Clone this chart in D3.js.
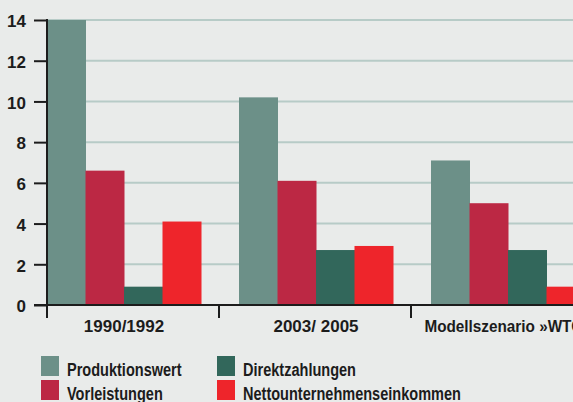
<!DOCTYPE html>
<html>
<head>
<meta charset="utf-8">
<script src="https://cdn.jsdelivr.net/npm/d3@7"></script>
<style>
body { margin: 0; background: #e9ebea; }
svg { display: block; }
text { font-family: "Liberation Sans", Arial, sans-serif; font-weight: bold; fill: #1c1c1c; }
</style>
</head>
<body>
<svg id="chart" width="573" height="402"></svg>
<script>
var categories = ["1990/1992", "2003/ 2005", "Modellszenario »WTO«"];
var seriesNames = ["Produktionswert", "Vorleistungen", "Direktzahlungen", "Nettounternehmenseinkommen"];
var produktionswert = [14.0, 10.2, 7.1];
var vorleistungen = [6.6, 6.1, 5.0];
var direktzahlungen = [0.9, 2.7, 2.7];
var netto = [4.1, 2.9, 0.9];
var yTicks = [0, 2, 4, 6, 8, 10, 12, 14];

var values = [produktionswert, vorleistungen, direktzahlungen, netto];
var colors = ["#6c9088", "#bc2844", "#32675b", "#ee252b"];

var svg = d3.select("#chart");
var plotLeft = 47, plotTop = 20, base = 305, step = 192, groupW = 154;

// narrow words a bit, the original uses a condensed face (digits stay as they are)
function squeeze(sel, k) {
    sel.each(function() {
        if (!/[a-z]/i.test(this.textContent)) return;
        var w = this.getComputedTextLength();
        d3.select(this).attr("textLength", w * k).attr("lengthAdjust", "spacingAndGlyphs");
    });
}

var y = d3.scaleLinear().domain([0, 14]).range([base, plotTop]);
var x0 = d3.scaleBand().domain(categories).range([plotLeft, plotLeft + step * categories.length]);
var x1 = d3.scaleBand().domain(seriesNames).range([0, groupW]);
var color = d3.scaleOrdinal().domain(seriesNames).range(colors);

// gridlines
svg.append("g").selectAll("line")
    .data(yTicks.filter(function(d) { return d > 0; }))
    .enter().append("line")
    .attr("x1", plotLeft).attr("x2", 573)
    .attr("y1", function(d) { return y(d); })
    .attr("y2", function(d) { return y(d); })
    .attr("stroke", "#b7cbc7")
    .attr("stroke-width", 2);

// bars
var rows = [];
categories.forEach(function(c, i) {
    seriesNames.forEach(function(s, j) {
        rows.push({ cat: c, name: s, value: values[j][i] });
    });
});
svg.append("g").selectAll("rect")
    .data(rows)
    .enter().append("rect")
    .attr("x", function(d) { return x0(d.cat) + x1(d.name); })
    .attr("width", x1.bandwidth() + 0.5)
    .attr("y", function(d) { return y(d.value); })
    .attr("height", function(d) { return base - y(d.value); })
    .attr("fill", function(d) { return color(d.name); });

// y axis
var yAxis = d3.axisLeft(y).tickValues(yTicks).tickSize(13).tickPadding(8).tickFormat(d3.format("d"));
var ya = svg.append("g").attr("transform", "translate(" + plotLeft + ",0)").call(yAxis);
ya.select(".domain").remove();
ya.selectAll(".tick line").attr("stroke", "#1c1c1c").attr("stroke-width", 2);
ya.selectAll(".tick text").attr("fill", null).style("font-size", "17px").attr("dy", "0.4em");
svg.append("line")
    .attr("x1", plotLeft).attr("x2", plotLeft)
    .attr("y1", plotTop - 1).attr("y2", base + 13)
    .attr("stroke", "#1c1c1c").attr("stroke-width", 2);

// x baseline and group ticks
svg.append("line")
    .attr("x1", 34).attr("x2", 573)
    .attr("y1", base).attr("y2", base)
    .attr("stroke", "#1c1c1c").attr("stroke-width", 2);
svg.append("g").selectAll("line")
    .data(categories.slice(1))
    .enter().append("line")
    .attr("x1", function(d) { return x0(d) - 20; })
    .attr("x2", function(d) { return x0(d) - 20; })
    .attr("y1", base).attr("y2", base + 13)
    .attr("stroke", "#1c1c1c").attr("stroke-width", 2);
svg.append("g").selectAll("text")
    .data(categories)
    .enter().append("text")
    .attr("x", function(d) { return x0(d) + groupW / 2; })
    .attr("y", 332)
    .attr("text-anchor", "middle")
    .style("font-size", "17px")
    .text(function(d) { return d; })
    .call(squeeze, 0.9);

// legend
var legend = svg.append("g").selectAll("g")
    .data(seriesNames)
    .enter().append("g")
    .attr("transform", function(d, i) {
        return "translate(" + (i < 2 ? 41 : 217) + "," + (356 + (i % 2) * 24) + ")";
    });
legend.append("rect")
    .attr("width", 18).attr("height", 20)
    .attr("fill", function(d) { return color(d); });
legend.append("text")
    .attr("x", 26).attr("y", 20)
    .style("font-size", "17.5px")
    .text(function(d) { return d; })
    .call(squeeze, 0.83);
</script>
</body>
</html>
